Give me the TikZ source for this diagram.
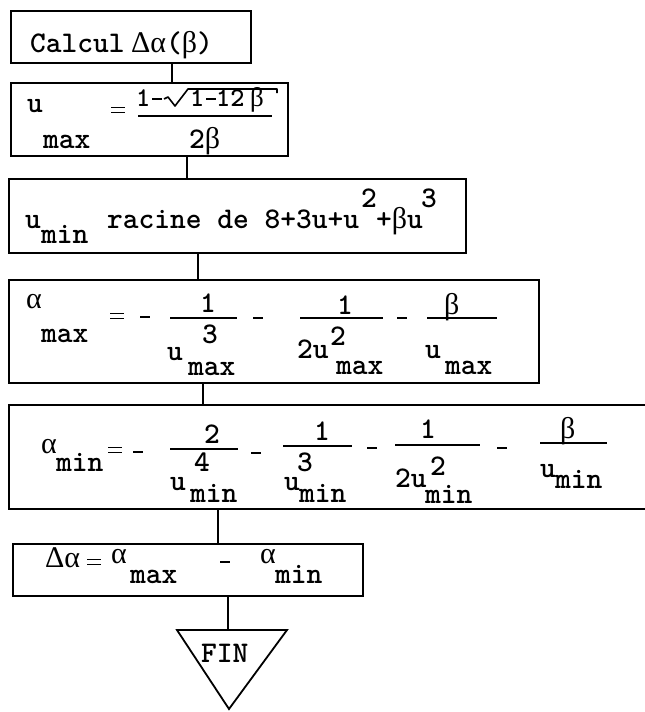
\documentclass[tikz,border=0pt]{standalone}
\usepackage{fontspec}
\newfontfamily\grk{Liberation Serif}
\newcommand\gk[1]{{\grk\mdseries #1}}
\newcommand\tyf{\ttfamily\bfseries\fontsize{30}{30}\selectfont}
\newcommand\tys{\ttfamily\bfseries\fontsize{27}{27}\selectfont}
\newcommand\eqsign[2]{\draw[line width=1.8pt] (#1,#2-2.5) -- ++(14,0) (#1,#2+2.5) -- ++(14,0);}
\newcommand\mn[2]{\draw[line width=1.8pt] (#1,#2) -- ++(10,0);}
\begin{document}
\begin{tikzpicture}[x=1pt,y=-1pt,
  box/.style={draw, line width=2pt, inner sep=0, anchor=north west},
  t/.style={inner sep=0, anchor=base west, font=\tyf},
  ts/.style={inner sep=0, anchor=base west, font=\tys},
  bar/.style={line width=1.8pt},
  conn/.style={line width=2.6pt}]
\useasboundingbox (0,0) rectangle (645,712);
% boxes
\node[box, minimum width=240, minimum height=52] (b1) at (10,10) {};
\node[box, minimum width=277, minimum height=73] (b2) at (10,82) {};
\node[box, minimum width=457, minimum height=74] (b3) at (8,178) {};
\node[box, minimum width=530, minimum height=103] (b4) at (8,279) {};
\node[inner sep=0, anchor=north west, minimum width=640, minimum height=104] (b5) at (9,405) {};
\draw[line width=2pt] (b5.north east) -- (b5.north west) -- (b5.south west) -- (b5.south east);
\node[box, minimum width=350, minimum height=52] (b6) at (12,543) {};
% connectors
\coordinate (k1) at (172,0);
\coordinate (k2) at (187,0);
\coordinate (k3) at (198,0);
\coordinate (k4) at (203,0);
\coordinate (k5) at (218,0);
\coordinate (k6) at (228,0);
\draw[conn] (b1.south -| k1) -- (b2.north -| k1);
\draw[conn] (b2.south -| k2) -- (b3.north -| k2);
\draw[conn] (b3.south -| k3) -- (b4.north -| k3);
\draw[conn] (b4.south -| k4) -- (b5.north -| k4);
\draw[conn] (b5.south -| k5) -- (b6.north -| k5);
% end triangle
\coordinate (tl) at (177,630);
\coordinate (tr) at (287,630);
\coordinate (tb) at (229,709);
\draw[line width=1.8pt] (tl) -- (tr) -- (tb) -- cycle;
\draw[conn] (b6.south -| k6) -- (tl -| k6);
\node[t] (fin) at (201,662) {FIN};
% box 1
\node[t] (c1) at (30,52) {Calcul};
\node[t] (c2) at (131,52) {\gk{Δα}(\gk{β})};
% box 2
\node[t] (u1) at (27,112) {u};
\node[t] (m1) at (43,148) {max};
\eqsign{111}{110}
\node[ts] (n1a) at (136,106) {1};
\mn{152}{99}
\draw[line width=1.6pt, line join=round] (164,99) -- (168,97) -- (175,106) -- (188,89) -- (277,89) -- (277,93);
\node[ts] (n1b) at (190,106) {1};
\mn{206}{99}
\node[ts] (n1c) at (216,106) {12};
\node[ts] (n1d) at (250,106) {\gk{β}};
\draw[bar] (138,116) -- (272,116);
\node[t] (d1) at (189,148) {2\gk{β}};
% box 3
\node[t] (u2) at (25,228) {u};
\node[t] (m2) at (41,243) {min};
\node[t] (r1) at (107,228) {racine de 8+3u+u};
\node[t] (s1) at (361,207) {2};
\node[t] (r2) at (376,228) {+\gk{β}u};
\node[t] (s2) at (421,207) {3};
% box 4
\node[t] (a1) at (26,308) {\gk{α}};
\node[t] (m3) at (41,342) {max};
\eqsign{110}{316}
\mn{140}{317}
\draw[bar] (170,318) -- (237,318);
\node[t] (f1n) at (200,312) {1};
\node[t] (f1s) at (202,343) {3};
\node[t] (f1u) at (167,360) {u};
\node[t] (f1m) at (188,375) {max};
\mn{253}{318}
\draw[bar] (300,318) -- (383,318);
\node[t] (f2n) at (337,314) {1};
\node[t] (f2u) at (297,358) {2u};
\node[t] (f2s) at (330,345) {2};
\node[t] (f2m) at (336,374) {max};
\mn{397}{318}
\draw[bar] (427,318) -- (497,318);
\node[t] (f3n) at (444,314) {\gk{β}};
\node[t] (f3u) at (425,358) {u};
\node[t] (f3m) at (445,374) {max};
% box 5
\node[t] (a2) at (41,453) {\gk{α}};
\node[t] (m4) at (56,471) {min};
\eqsign{108}{450}
\mn{133}{452}
\draw[bar] (170,449) -- (238,449);
\node[t] (g1n) at (204,443) {2};
\node[t] (g1s) at (194,471) {4};
\node[t] (g1u) at (170,490) {u};
\node[t] (g1m) at (190,502) {min};
\mn{251}{453}
\draw[bar] (283,446) -- (352,446);
\node[t] (g2n) at (314,440) {1};
\node[t] (g2s) at (297,471) {3};
\node[t] (g2u) at (284,490) {u};
\node[t] (g2m) at (299,502) {min};
\mn{367}{448}
\draw[bar] (395,445) -- (480,445);
\node[t] (g3n) at (420,438) {1};
\node[t] (g3u) at (395,487) {2u};
\node[t] (g3s) at (430,475) {2};
\node[t] (g3m) at (425,503) {min};
\mn{497}{448}
\draw[bar] (540,443) -- (607,443);
\node[t] (g4n) at (560,438) {\gk{β}};
\node[t] (g4u) at (540,477) {u};
\node[t] (g4m) at (555,488) {min};
% box 6
\node[t] (h1) at (45,567) {\gk{Δα}};
\eqsign{87}{562}
\node[t] (h2) at (111,563) {\gk{α}};
\node[t] (h3) at (130,583) {max};
\mn{220}{562}
\node[t] (h4) at (260,563) {\gk{α}};
\node[t] (h5) at (275,583) {min};
\end{tikzpicture}
\end{document}
